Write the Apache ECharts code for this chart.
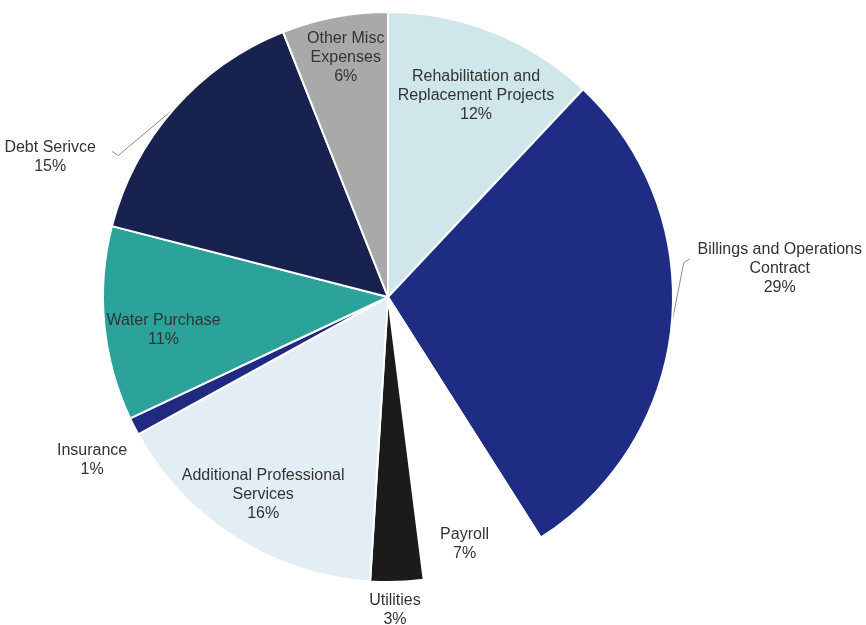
<!DOCTYPE html>
<html>
<head>
<meta charset="utf-8">
<script src="https://cdn.jsdelivr.net/npm/echarts@6/dist/echarts.min.js"></script>
<style>
  html, body { margin: 0; padding: 0; background: #fff; }
  #chart { width: 866px; height: 625px; }
</style>
</head>
<body>
<div id="chart"></div>
<script>
// slices, clockwise from 12 o'clock
var names = [
  "Rehabilitation and\nReplacement Projects",
  "Billings and Operations\nContract",
  "Payroll",
  "Utilities",
  "Additional Professional\nServices",
  "Insurance",
  "Water Purchase",
  "Debt Serivce",
  "Other Misc\nExpenses"
];
var values = [12, 29, 7, 3, 16, 1, 11, 15, 6];
var colors = ["#cfe7ea", "#1f2c84", "#ffffff", "#1b1b1b", "#e2eef3", "#1f2a80", "#2ca39a", "#17224e", "#a9a9a9"];

var insideIdx = [0, 4, 6, 8];
var lineIdx = [1, 7];

var cx = 388, cy = 297, R = 285;
// label centre offset from the slice's outer edge midpoint
var labelShift = { 1: [108, -55], 2: [-20, -21], 3: [-2, 28], 5: [-42, 34], 7: [-124, 49] };
// leader line end offset from label centre
var lineEnd = { 1: [-90, -10], 7: [62, -6] };
// small nudges for inside labels
var insideNudge = { 0: [5, 8], 4: [-4, 7], 8: [0, -18], 6: [0, 12] };

var total = values.reduce(function (a, b) { return a + b; }, 0);
function edgeMid(i) {
  var before = 0;
  for (var k = 0; k < i; k++) before += values[k];
  var a = (before + values[i] / 2) / total * Math.PI * 2;
  return [cx + R * Math.sin(a), cy - R * Math.cos(a)];
}

var textStyle = {
  color: "#333333",
  fontSize: 16,
  lineHeight: 19,
  fontFamily: "'Liberation Sans', Arial, sans-serif",
  formatter: "{b}\n{c}%"
};

var mainData = values.map(function (v, i) {
  var outside = insideIdx.indexOf(i) < 0;
  return {
    name: names[i],
    value: v,
    itemStyle: { color: colors[i] },
    label: { show: outside },
    labelLine: { show: lineIdx.indexOf(i) >= 0 }
  };
});
var overlayData = values.map(function (v, i) {
  return {
    name: names[i],
    value: v,
    label: { show: insideIdx.indexOf(i) >= 0 }
  };
});

var chart = echarts.init(document.getElementById("chart"));
chart.setOption({
  backgroundColor: "#ffffff",
  animation: false,
  series: [
    {
      type: "pie",
      center: [cx, cy],
      radius: R,
      startAngle: 90,
      clockwise: true,
      avoidLabelOverlap: false,
      itemStyle: { borderColor: "#ffffff", borderWidth: 2 },
      label: Object.assign({ position: "outside" }, textStyle),
      labelLine: { lineStyle: { color: "#8c8c8c", width: 1 } },
      labelLayout: function (params) {
        var i = params.dataIndex;
        var s = labelShift[i];
        if (!s) return {};
        var p = edgeMid(i);
        var x = p[0] + s[0], y = p[1] + s[1];
        var out = { x: x, y: y, align: "center", verticalAlign: "middle" };
        if (lineEnd[i]) {
          var e = [x + lineEnd[i][0], y + lineEnd[i][1]];
          var stub = i === 1 ? 6 : -6;
          out.labelLinePoints = [p, [e[0] - stub, e[1] + 4], e];
        }
        return out;
      },
      data: mainData
    },
    {
      type: "pie",
      center: [cx, cy],
      radius: [160, R],
      startAngle: 90,
      clockwise: true,
      silent: true,
      avoidLabelOverlap: false,
      itemStyle: { color: "transparent" },
      label: Object.assign({ position: "inside" }, textStyle),
      labelLine: { show: false },
      labelLayout: function (params) {
        var n = insideNudge[params.dataIndex];
        return n ? { dx: n[0], dy: n[1] } : {};
      },
      data: overlayData
    }
  ]
});
</script>
</body>
</html>
